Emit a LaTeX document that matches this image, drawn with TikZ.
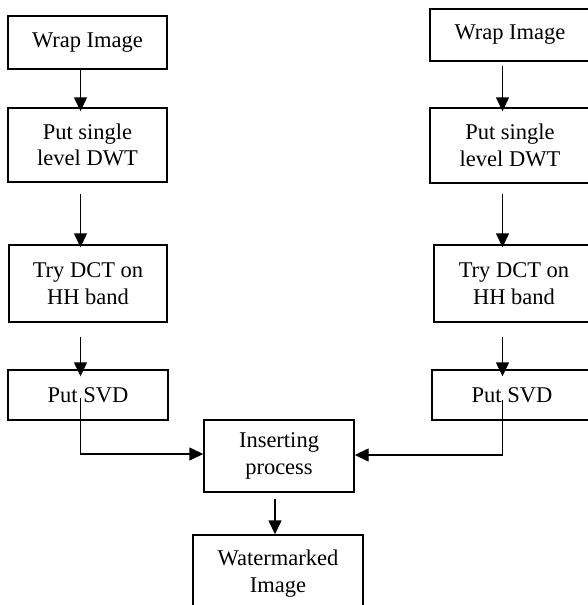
\documentclass[tikz,border=0pt]{standalone}
\usepackage{fontspec}
\setmainfont{Liberation Serif}
\usetikzlibrary{arrows.meta}

\begin{document}
\begin{tikzpicture}[x=1pt, y=-1pt, line width=1.4pt,
    >={Triangle[width=13pt,length=14pt]},
    box/.style={draw, align=center, inner sep=0pt, font=\fontsize{22.5}{26.5}\selectfont}]
    \useasboundingbox (0,0) rectangle (588,605);
    \clip (0,0) rectangle (588,605);

    % Left chain
    \node[box, minimum width=159pt, minimum height=53pt] (wrapL) at (87.5, 42.5) {Wrap Image};
    \node[box, minimum width=159pt, minimum height=74pt] (dwtL) at (87.5, 145) {Put single\\level DWT};
    \node[box, minimum width=158pt, minimum height=77pt] (dctL) at (88, 283.5) {Try DCT on\\HH band};
    \node[box, minimum width=160pt, minimum height=50pt] (svdL) at (88, 395) {Put SVD};
    \coordinate (sl) at (80.5, 398);

    % Right chain
    \node[box, minimum width=160pt, minimum height=52pt] (wrapR) at (510, 35) {Wrap Image};
    \node[box, minimum width=160pt, minimum height=75pt] (dwtR) at (510, 145.5) {Put single\\level DWT};
    \node[box, minimum width=160pt, minimum height=77pt] (dctR) at (514, 283.5) {Try DCT on\\HH band};
    \node[box, minimum width=160pt, minimum height=50pt] (svdR) at (512, 395) {Put SVD};
    \coordinate (sr) at (502.5, 400);

    % Merge and output
    \node[box, minimum width=150pt, minimum height=72pt] (ins) at (279, 456) {Inserting\\process};
    \node[box, minimum width=170pt, minimum height=77pt] (wm) at (278, 573.5) {Watermarked\\Image};

    % Arrows
    \draw[->, shorten >=-4pt] (wrapL.south -| sl) -- (dwtL.north -| sl);
    \draw[->, shorten <=11pt, shorten >=-3pt] (dwtL.south -| sl) -- (dctL.north -| sl);
    \draw[->, shorten <=14pt, shorten >=-7pt] (dctL.south -| sl) -- (svdL.north -| sl);
    \draw[->, shorten <=4pt, shorten >=-4pt] (wrapR.south -| sr) -- (dwtR.north -| sr);
    \draw[->, shorten <=10pt, shorten >=-3pt] (dwtR.south -| sr) -- (dctR.north -| sr);
    \draw[->, shorten <=14pt, shorten >=-7pt] (dctR.south -| sr) -- (svdR.north -| sr);
    \draw[->] (sl) |- ([yshift=2pt]ins.west);
    \draw[->] (sr) |- ([yshift=1pt]ins.east);
    \draw[->, shorten <=6pt] ([xshift=-4pt]ins.south) -- ([xshift=-3pt]wm.north);
\end{tikzpicture}
\end{document}
